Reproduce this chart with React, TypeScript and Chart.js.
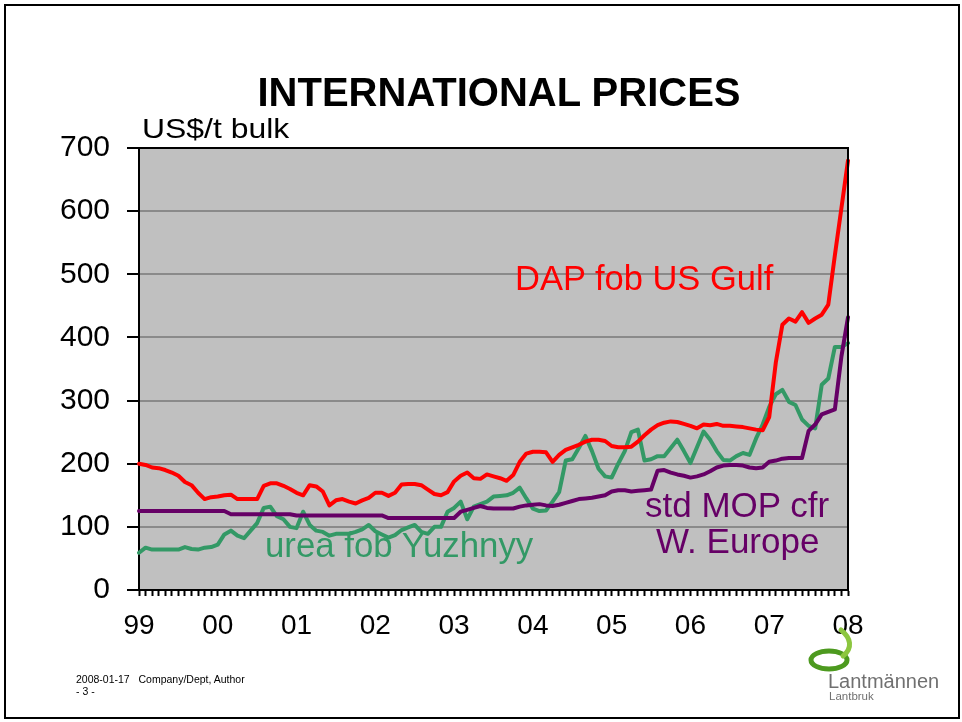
import React, { useEffect, useRef } from "react";
import { Chart, registerables } from "chart.js";

Chart.register(...registerables);

// ---- data (monthly, Jan 1999 .. Jan 2008) ----
const yearLabels = ["99", "00", "01", "02", "03", "04", "05", "06", "07", "08"];
const monthNames = ["01", "02", "03", "04", "05", "06", "07", "08", "09", "10", "11", "12"];

const dapFobUsGulf = [
  200, 198, 194, 193, 190, 186, 181, 171, 166, 154,
  144, 147, 148, 150, 151, 144, 144, 144, 144, 165,
  169, 169, 165, 160, 154, 150, 166, 164, 156, 134,
  142, 144, 140, 137, 142, 146, 154, 154, 149, 154,
  167, 168, 168, 166, 159, 152, 150, 155, 172, 181,
  186, 177, 176, 183, 180, 177, 173, 182, 203, 216,
  219, 219, 218, 203, 214, 222, 226, 230, 235, 238,
  238, 236, 228, 226, 226, 227, 235, 245, 254, 261,
  265, 267, 266, 263, 260, 256, 262, 261, 263, 260,
  260, 259, 258, 256, 254, 253, 274, 360, 420, 430,
  425, 440, 423, 430, 436, 452, 530, 605, 680,
];

const ureaFobYuzhnyy = [
  59, 67, 64, 64, 64, 64, 64, 68, 65, 64,
  67, 68, 72, 88, 94, 86, 82, 94, 106, 130,
  132, 117, 112, 100, 98, 124, 103, 94, 92, 86,
  89, 89, 89, 92, 96, 103, 93, 88, 83, 87,
  95, 99, 103, 92, 89, 100, 100, 124, 130, 140,
  112, 132, 136, 140, 148, 149, 150, 154, 162, 145,
  129, 125, 126, 140, 155, 205, 207, 225, 244, 220,
  192, 180, 178, 200, 220, 250, 254, 205, 207, 212,
  212, 225, 238, 220, 201, 226, 251, 238, 220, 206,
  205, 212, 217, 214, 240, 262, 290, 310, 317, 298,
  293, 270, 260, 256, 325, 335, 385, 385, 391,
];

const stdMopCfrWEurope = [
  125, 125, 125, 125, 125, 125, 125, 125, 125, 125,
  125, 125, 125, 125, 120, 120, 120, 120, 120, 120,
  120, 120, 120, 120, 118, 118, 118, 118, 118, 118,
  118, 118, 118, 118, 118, 118, 118, 118, 114, 114,
  114, 114, 114, 114, 114, 114, 114, 114, 114, 124,
  127, 130, 133, 130, 129, 129, 129, 129, 132, 134,
  135, 136, 134, 133, 135, 138, 141, 144, 145, 146,
  148, 150, 156, 158, 158, 156, 157, 158, 159, 189,
  190, 186, 183, 181, 178, 180, 183, 188, 194, 197,
  198, 198, 197, 194, 193, 194, 203, 205, 208, 209,
  209, 209, 252, 262, 278, 282, 286, 370, 432,
];

const yTicks = [0, 100, 200, 300, 400, 500, 600, 700];

// categories: one per month
const months: string[] = [];
yearLabels.forEach((y, yi) => {
  monthNames.forEach((m) => {
    if (yi < yearLabels.length - 1 || m === "01") months.push(`${y}-${m}`);
  });
});

const FONT = '"Liberation Sans", Arial, Helvetica, sans-serif';

const plotFrame = {
  id: "plotFrame",
  beforeDraw(chart: any) {
    const { ctx, chartArea: a } = chart;
    ctx.save();
    ctx.fillStyle = "#C0C0C0";
    ctx.fillRect(a.left, a.top, a.right - a.left, a.bottom - a.top);
    ctx.restore();
  },
  afterDraw(chart: any) {
    const { ctx, chartArea: a } = chart;
    ctx.save();
    ctx.strokeStyle = "#000";
    ctx.lineWidth = 2;
    ctx.beginPath();
    ctx.moveTo(a.left, a.top);
    ctx.lineTo(a.right, a.top);
    ctx.lineTo(a.right, a.bottom);
    ctx.stroke();
    ctx.restore();
  },
};

function Txt(props: {
  x: number;
  base: number;
  size: number;
  color?: string;
  bold?: boolean;
  center?: boolean;
  sx?: number;
  family?: string;
  children: React.ReactNode;
}) {
  const { x, base, size, color = "#000", bold, center, sx = 1, family = FONT } = props;
  const top = base - 0.8465 * size;
  const tf = `${center ? "translateX(-50%) " : ""}scaleX(${sx})`;
  return (
    <div
      style={{
        position: "absolute",
        left: x,
        top,
        fontFamily: family,
        fontSize: size,
        lineHeight: `${size}px`,
        fontWeight: bold ? "bold" : "normal",
        color,
        whiteSpace: "nowrap",
        transform: tf,
        transformOrigin: center ? "50% 0" : "0 0",
        zIndex: 2,
      }}
    >
      {props.children}
    </div>
  );
}

export default function App() {
  const ref = useRef<HTMLCanvasElement | null>(null);

  useEffect(() => {
    if (!ref.current) return;
    const lineDs = (label: string, data: number[], color: string, order: number) => ({
      label,
      data,
      borderColor: color,
      backgroundColor: color,
      borderWidth: 4,
      pointRadius: 0,
      pointHoverRadius: 0,
      tension: 0,
      fill: false,
      borderJoinStyle: "round" as const,
      borderCapStyle: "round" as const,
      order,
    });
    const chart = new Chart(ref.current, {
      type: "line",
      data: {
        labels: months,
        datasets: [
          lineDs("DAP fob US Gulf", dapFobUsGulf, "#FF0000", 0),
          lineDs("std MOP cfr W. Europe", stdMopCfrWEurope, "#660066", 1),
          lineDs("urea fob Yuzhnyy", ureaFobYuzhnyy, "#339966", 2),
        ],
      },
      options: {
        animation: false,
        responsive: false,
        devicePixelRatio: 1,
        events: [],
        layout: { padding: { left: 0, top: 148, right: 114, bottom: 0 } },
        plugins: {
          legend: { display: false },
          title: { display: false },
          tooltip: { enabled: false },
        },
        scales: {
          x: {
            type: "category",
            offset: false,
            grid: {
              drawOnChartArea: false,
              drawTicks: true,
              tickLength: 6,
              tickColor: "#000",
              tickWidth: 2,
            },
            border: { display: true, color: "#000", width: 2 },
            ticks: {
              autoSkip: false,
              maxRotation: 0,
              minRotation: 0,
              padding: 13,
              color: "#000",
              font: { family: FONT, size: 28 },
              callback: (_v: any, i: number) => (i % 12 === 0 ? yearLabels[i / 12] : ""),
            },
            afterFit: (s: any) => {
              s.height = 132;
            },
          },
          y: {
            min: 0,
            max: 700,
            afterBuildTicks: (s: any) => {
              s.ticks = yTicks.map((v) => ({ value: v }));
            },
            grid: {
              color: "#8a8a8a",
              lineWidth: 2,
              tickLength: 12,
              tickColor: "#000",
              tickWidth: 2,
            },
            border: { display: true, color: "#000", width: 2 },
            ticks: {
              padding: 17,
              color: "#000",
              font: { family: FONT, size: 30 },
            },
            afterFit: (s: any) => {
              s.width = 139;
            },
          },
        },
      },
      plugins: [plotFrame],
    });
    return () => chart.destroy();
  }, []);

  return (
    <div
      style={{
        position: "absolute",
        left: 0,
        top: 0,
        width: 962,
        height: 722,
        background: "#fff",
        overflow: "hidden",
      }}
    >
      <canvas
        ref={ref}
        width={962}
        height={722}
        style={{ position: "absolute", left: 0, top: 0, width: 962, height: 722, display: "block" }}
      />
      <div
        style={{
          position: "absolute",
          left: 4,
          top: 4,
          width: 956,
          height: 715,
          boxSizing: "border-box",
          border: "2px solid #000",
          zIndex: 3,
          pointerEvents: "none",
        }}
      />
      <Txt x={499} base={106} size={40} bold center>
        INTERNATIONAL PRICES
      </Txt>
      <Txt x={142} base={139} size={28} sx={1.14}>
        US$/t bulk
      </Txt>
      <Txt x={515} base={290} size={34.5} color="#FF0000">
        DAP fob US Gulf
      </Txt>
      <Txt x={265} base={557} size={34.8} color="#339966">
        urea fob Yuzhnyy
      </Txt>
      <Txt x={645} base={517} size={35} color="#660066">
        std MOP cfr
      </Txt>
      <Txt x={656} base={553} size={35} color="#660066">
        W. Europe
      </Txt>
      <Txt x={76} base={683} size={10.5}>
        2008-01-17&nbsp;&nbsp;&nbsp;Company/Dept, Author
      </Txt>
      <Txt x={76} base={695} size={10.5}>
        - 3 -
      </Txt>
      <svg
        width={60}
        height={50}
        style={{ position: "absolute", left: 803, top: 626, zIndex: 2 }}
        viewBox="0 0 60 50"
      >
        <ellipse cx={26} cy={34} rx={18} ry={9} fill="none" stroke="#4d9a1f" strokeWidth={5} />
        <path d="M40 30 C 50 22, 48 12, 38 4" fill="none" stroke="#8cc63f" strokeWidth={5} strokeLinecap="round" />
      </svg>
      <Txt x={828} base={688} size={20} color="#707070">
        Lantmännen
      </Txt>
      <Txt x={829} base={701} size={11.5} color="#707070">
        Lantbruk
      </Txt>
    </div>
  );
}
